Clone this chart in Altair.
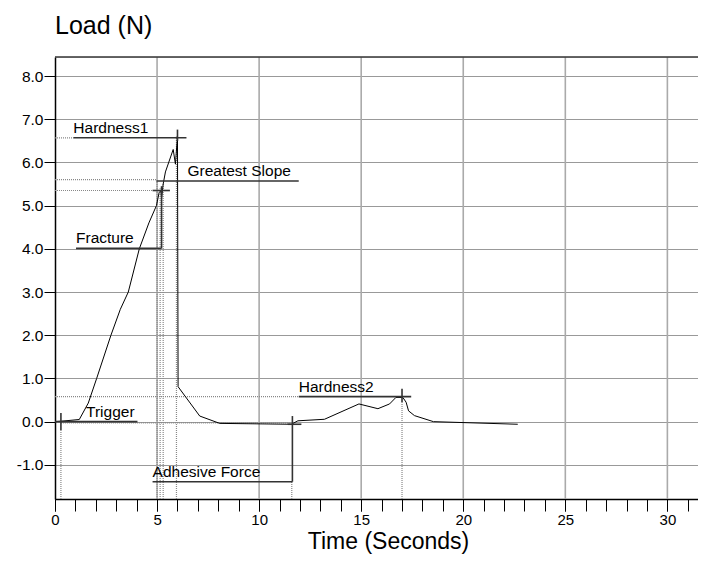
import altair as alt
import pandas as pd

# ---- curve data (Time s, Load N) ----
time_s = [0.0, 0.3, 1.19, 1.63, 2.04, 2.74, 3.2, 3.59, 4.13, 4.6, 4.97, 5.1, 5.19, 5.22,
          5.3, 5.41, 5.79, 5.9, 6.0, 6.03, 7.09, 8.07, 11.58, 11.9, 13.2, 14.89, 15.82,
          16.39, 16.7, 17.04, 17.2, 17.32, 17.61, 18.54, 22.67]
load_n = [0.0, 0.01, 0.05, 0.43, 1.0, 2.0, 2.6, 3.0, 4.0, 4.6, 5.0, 5.3, 5.35, 5.17,
          5.5, 5.78, 6.3, 5.96, 6.6, 0.81, 0.13, -0.04, -0.06, 0.02, 0.055, 0.41, 0.3,
          0.41, 0.56, 0.56, 0.45, 0.25, 0.14, 0.0, -0.06]

# ---- annotation labels ----
label_names = ["Hardness1", "Greatest Slope", "Fracture", "Trigger", "Adhesive Force", "Hardness2"]
label_x = [0.9, 6.49, 1.03, 1.52, 4.78, 11.94]
label_y = [6.57, 5.57, 4.01, 0.0, -1.39, 0.58]

# underline / leader segments (x, y, x2, y2), solid dark
solid_x1 = [0.9, 4.97, 1.03, 0.0, 4.78, 11.94, 5.22, 11.63, 4.78, 11.4, 0.29, 6.0, 17.0]
solid_y1 = [6.57, 5.57, 4.01, 0.0, -1.39, 0.58, 4.01, -1.39, 5.35, -0.06, 0.2, 6.76, 0.76]
solid_x2 = [6.44, 11.94, 5.22, 4.04, 11.63, 17.45, 5.22, 11.63, 5.63, 12.07, 0.29, 6.0, 17.0]
solid_y2 = [6.57, 5.57, 4.01, 0.0, -1.39, 0.58, 5.45, 0.13, 5.35, -0.06, -0.2, 6.5, 0.45]

# dotted grey drop lines
y_bottom = -1.79
y_top = 8.44
x_max = 31.5
dot_x1 = [0.0, 0.0, 0.0, 0.0, 0.3, 0.29, 5.0, 5.15, 5.3, 5.95, 11.6, 17.0]
dot_y1 = [6.57, 5.6, 5.35, 0.58, -0.03, y_bottom, y_bottom, y_bottom, y_bottom, y_bottom, y_bottom, y_bottom]
dot_x2 = [0.9, 4.97, 4.78, 11.94, 11.5, 0.29, 5.0, 5.15, 5.3, 5.95, 11.6, 17.0]
dot_y2 = [6.57, 5.6, 5.35, 0.58, -0.03, -0.2, 5.57, 5.4, 5.5, 6.6, -1.39, 0.45]

x_major = [0, 5, 10, 15, 20, 25, 30]
x_minor = list(range(0, 32))
grid_x = [5, 10, 15, 20, 25, 30]
y_ticks = [-1, 0, 1, 2, 3, 4, 5, 6, 7, 8]

FONT = "Liberation Sans"

curve = pd.DataFrame({"t": time_s, "load": load_n})
labels = pd.DataFrame({"name": label_names, "x": label_x, "y": label_y})
solid = pd.DataFrame({"x": solid_x1, "y": solid_y1, "x2": solid_x2, "y2": solid_y2})
dots = pd.DataFrame({"x": dot_x1, "y": dot_y1, "x2": dot_x2, "y2": dot_y2})
topline = pd.DataFrame({"x": [0.0], "x2": [x_max], "y": [y_top]})
vgrid = pd.DataFrame({"x": grid_x})

xscale = alt.Scale(domain=[0, x_max], nice=False, zero=False)
yscale = alt.Scale(domain=[y_bottom, y_top], nice=False, zero=False)

xaxis_major = alt.Axis(
    values=x_major, orient="bottom",
    title="Time (Seconds)",
    titleFont=FONT, titleFontSize=23, titleFontWeight="normal", titleColor="black",
    titlePadding=3, titleX=333, titleAlign="center",
    labelFont=FONT, labelFontSize=15, labelColor="black", labelPadding=1,
    labelOverlap=False, labelFlush=False,
    tickSize=12, tickColor="black", tickWidth=1,
    domainColor="black", domainWidth=1.5,
    grid=False,
)
xaxis_minor = alt.Axis(
    values=x_minor, orient="bottom", title=None, labels=False, grid=False,
    tickSize=12, tickColor="black", tickWidth=1, domain=False,
)
yaxis = alt.Axis(
    values=y_ticks, title=None,
    labelExpr="(datum.value < 0 ? '-' : '') + format(abs(datum.value), '.1f')",
    labelFont=FONT, labelFontSize=15.5, labelColor="black", labelPadding=1,
    tickSize=11, tickColor="black", domainColor="black", domainWidth=1.5,
    grid=True, gridColor="#999999", gridWidth=1.2,
)

grid_layer = alt.Chart(vgrid).mark_rule(color="#aaaaaa", strokeWidth=1.6).encode(
    x=alt.X("x:Q", scale=xscale, axis=xaxis_minor)
)

base_curve = alt.Chart(curve).mark_line(color="black", strokeWidth=1).encode(
    x=alt.X("t:Q", scale=xscale, axis=xaxis_major),
    y=alt.Y("load:Q", scale=yscale, axis=yaxis),
    order="t:Q",
)

dot_layer = alt.Chart(dots).mark_rule(color="#888888", strokeWidth=1.2, strokeDash=[1, 1]).encode(
    x=alt.X("x:Q", axis=None), y=alt.Y("y:Q", axis=yaxis), x2="x2:Q", y2="y2:Q"
)
solid_layer = alt.Chart(solid).mark_rule(color="#333333", strokeWidth=1.6).encode(
    x=alt.X("x:Q", axis=None), y=alt.Y("y:Q", axis=yaxis), x2="x2:Q", y2="y2:Q"
)
top_layer = alt.Chart(topline).mark_rule(color="#333333", strokeWidth=1.5).encode(
    x=alt.X("x:Q", axis=None), x2="x2:Q", y=alt.Y("y:Q", axis=yaxis)
)
text_layer = alt.Chart(labels).mark_text(
    align="left", baseline="alphabetic", dy=-5, font=FONT, fontSize=15.5, color="black"
).encode(x=alt.X("x:Q", axis=None), y=alt.Y("y:Q", axis=yaxis), text="name:N")

chart = alt.layer(grid_layer, dot_layer, base_curve, solid_layer, top_layer, text_layer).resolve_axis(
    x="independent"
).properties(
    width=643, height=442,
    title=alt.Title("Load (N)", anchor="start", frame="group", font=FONT, fontSize=25,
                    fontWeight="normal", color="black", offset=17),
    autosize=alt.AutoSizeParams(type="none"),
    padding={"left": 47, "top": 49, "right": 0, "bottom": 55},
).configure_view(stroke=None).configure(background="white")

chart.save("out.html", embed_options={"renderer": "svg", "actions": False})
